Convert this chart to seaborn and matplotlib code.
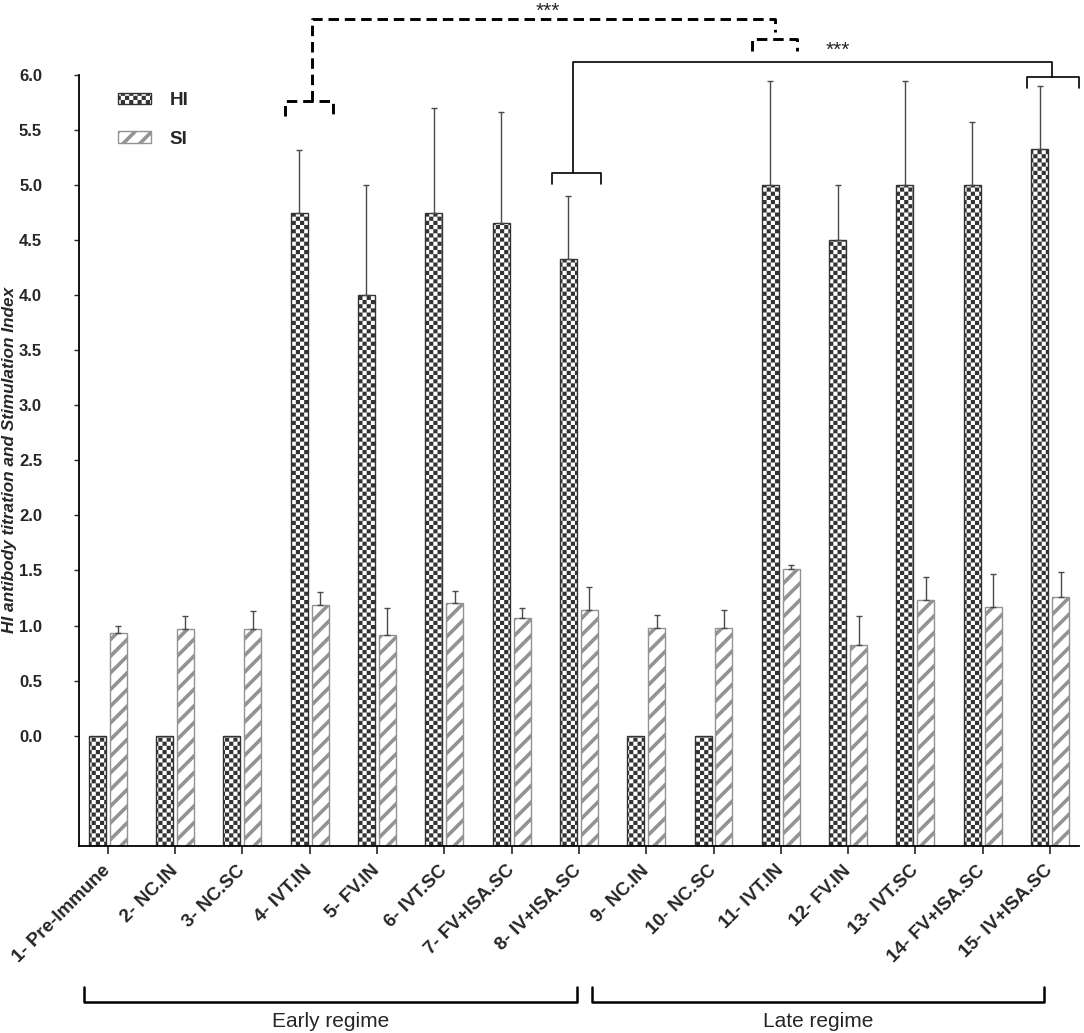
import warnings
import numpy as np
import pandas as pd
import seaborn as sns
import matplotlib
matplotlib.use("Agg")
import matplotlib.pyplot as plt
import matplotlib.patches as mpatches
from matplotlib import hatch as mhatch
from matplotlib.path import Path
from matplotlib.transforms import ScaledTranslation

warnings.filterwarnings("ignore")

# data (group means and upper SD)
groups = ["1- Pre-Immune", "2- NC.IN", "3- NC.SC", "4- IVT.IN", "5- FV.IN",
          "6- IVT.SC", "7- FV+ISA.SC", "8- IV+ISA.SC", "9- NC.IN", "10- NC.SC",
          "11- IVT.IN", "12- FV.IN", "13- IVT.SC", "14- FV+ISA.SC", "15- IV+ISA.SC"]
hi_mean = [0, 0, 0, 4.75, 4.0, 4.75, 4.66, 4.33, 0, 0, 5.0, 4.5, 5.0, 5.0, 5.33]
hi_sd = [0, 0, 0, 0.57, 1.0, 0.95, 1.0, 0.57, 0, 0, 0.95, 0.5, 0.95, 0.57, 0.57]
si_mean = [0.93, 0.97, 0.97, 1.19, 0.91, 1.20, 1.07, 1.14, 0.98, 0.98,
           1.51, 0.82, 1.23, 1.17, 1.26]
si_sd = [0.07, 0.12, 0.16, 0.11, 0.25, 0.11, 0.09, 0.21, 0.12, 0.16,
         0.04, 0.27, 0.21, 0.30, 0.23]
series = ["HI", "SI"]
regimes = ["Early regime", "Late regime"]


# checkerboard hatch ('c'), matplotlib has none built in
class CheckerHatch(mhatch.HatchPatternBase):
    def __init__(self, hatch, density):
        self.cells = 24 if "c" in hatch else 0
        self.num_vertices = 5 * (self.cells ** 2 // 2)

    def set_vertices_and_codes(self, vertices, codes):
        step = 1.0 / self.cells
        ii, jj = np.meshgrid(np.arange(self.cells), np.arange(self.cells))
        keep = (ii + jj) % 2 == 0
        corners = np.stack([ii[keep], jj[keep]], axis=1) * step
        square = np.array([[0, 0], [1, 0], [1, 1], [0, 1], [0, 0]]) * step
        vertices[:] = (square[None, :, :] + corners[:, None, :]).reshape(-1, 2)
        codes[:] = np.tile([Path.MOVETO, Path.LINETO, Path.LINETO,
                            Path.LINETO, Path.CLOSEPOLY], len(corners))


mhatch._hatch_types.append(CheckerHatch)


def set_hatch_lw(patch, lw):
    if hasattr(patch, "set_hatch_linewidth"):
        patch.set_hatch_linewidth(lw)
    else:
        patch._hatch_linewidth = lw


sns.set_style("ticks")
plt.rcParams["font.family"] = ["Liberation Sans", "DejaVu Sans"]
plt.rcParams["hatch.linewidth"] = 2.6

SI_GRAY = "#939393"
HI_EDGE = "#333333"

df = pd.DataFrame({
    "group": groups * 2,
    "series": ["HI"] * len(groups) + ["SI"] * len(groups),
    "value": hi_mean + si_mean,
})

fig = plt.figure(figsize=(10.84, 10.33), dpi=100)
ax = fig.add_axes([0.0729, 0.1813, 0.9225, 0.7461])

sns.barplot(data=df, x="group", y="value", hue="series", order=groups,
            hue_order=series, palette=["white", "white"], saturation=1,
            width=0.622, gap=0.19, errorbar=None, legend=False, ax=ax)

# style the bars and extend them down to the axis floor (-1)
sds = [hi_sd, si_sd]
for k, cont in enumerate(ax.containers[:2]):
    xs = []
    for p in cont.patches:
        h = p.get_height()
        p.set_y(-1)
        p.set_height(h + 1)
        p.set_facecolor("white")
        if k == 0:
            p.set_edgecolor(HI_EDGE)
            p.set_hatch("cc")
            set_hatch_lw(p, 0.01)
        else:
            p.set_edgecolor(SI_GRAY)
            p.set_hatch("//")
            set_hatch_lw(p, 2.6)
        p.set_linewidth(1.0)
        xs.append(p.get_x() + p.get_width() / 2)
    means = np.array([hi_mean, si_mean][k], dtype=float)
    sd = np.array(sds[k], dtype=float)
    m = sd > 0
    ax.errorbar(np.array(xs)[m], means[m], yerr=[np.zeros(m.sum()), sd[m]],
                fmt="none", ecolor="#4a4a4a", elinewidth=1, capsize=2,
                capthick=1)

ax.set_xlim(-0.426, 14.43)
ax.set_ylim(-1, 6)
yt = np.arange(0, 6.01, 0.5)
ax.set_yticks(yt)
ax.set_yticklabels([f"{v:.1f}" for v in yt], fontsize=12, fontweight="bold")
ax.set_xticks(range(len(groups)))
ax.set_xticklabels(groups, rotation=45, ha="right", va="center",
                   rotation_mode="anchor", fontsize=13.5, fontweight="bold")
shift = ScaledTranslation(5 / 100, 0, fig.dpi_scale_trans)
for lab in ax.get_xticklabels():
    lab.set_transform(lab.get_transform() + shift)
ax.tick_params(axis="y", length=3.6, width=1, pad=23)
ax.tick_params(axis="x", length=6, width=1.2, pad=10)
ax.set_xlabel("")
ax.set_ylabel("HI antibody titration and Stimulation Index", fontsize=12.4,
              fontweight="bold", fontstyle="italic")
ax.yaxis.set_label_coords(-0.0625, 0.5)
sns.despine(ax=ax)
for s in ["left", "bottom"]:
    ax.spines[s].set_linewidth(1.3)
    ax.spines[s].set_color("black")

# legend
h_hi = mpatches.Patch(facecolor="white", edgecolor=HI_EDGE, hatch="cc",
                      linewidth=1, label="HI")
h_si = mpatches.Patch(facecolor="white", edgecolor=SI_GRAY, hatch="//",
                      linewidth=1, label="SI")
leg = ax.legend(handles=[h_hi, h_si], loc="upper left",
                bbox_to_anchor=(0.039, 0.978), frameon=False, borderpad=0,
                borderaxespad=0, handlelength=1.72, handleheight=0.55,
                handletextpad=1.0, labelspacing=1.15,
                prop={"weight": "bold", "size": 13.6})
for lh in leg.legend_handles:
    set_hatch_lw(lh, 0.01 if lh.get_label() == "HI" else 2.6)

# significance brackets (dashed: 4 vs 11, solid: 8 vs 15)
dash = dict(color="black", lw=2.1, ls=(0, (3.6, 2.0)), clip_on=False)
ax.plot([2.64, 2.64, 3.35, 3.35], [5.63, 5.76, 5.76, 5.63], **dash)
ax.plot([3.04, 3.04, 9.91, 9.91], [5.76, 6.51, 6.51, 6.39], **dash)
ax.plot([9.57, 9.57, 10.24, 10.24], [6.22, 6.33, 6.33, 6.22], **dash)
ax.text(6.54, 6.58, "***", ha="center", va="center", fontsize=15,
        clip_on=False)

solid = dict(color="black", lw=1.2, clip_on=False)
ax.plot([6.60, 6.60, 7.33, 7.33], [5.01, 5.11, 5.11, 5.01], **solid)
ax.plot([6.91, 6.91, 14.03, 14.03], [5.11, 6.12, 6.12, 5.985], **solid)
ax.plot([13.66, 13.66, 14.43, 14.43], [5.885, 5.985, 5.985, 5.885], **solid)
ax.text(10.85, 6.22, "***", ha="center", va="center", fontsize=15,
        clip_on=False)

# regime brackets below the tick labels
xt = ax.get_xaxis_transform()
for (x0, x1), name in zip([(-0.35, 6.97), (7.2, 13.91)], regimes):
    ax.plot([x0, x0, x1, x1], [-0.183, -0.2024, -0.2024, -0.183],
            color="black", lw=1.8, transform=xt, clip_on=False)
    ax.text((x0 + x1) / 2, -0.228, name, ha="center", va="center",
            fontsize=15, transform=xt)

fig.savefig("out.png", dpi=100)
